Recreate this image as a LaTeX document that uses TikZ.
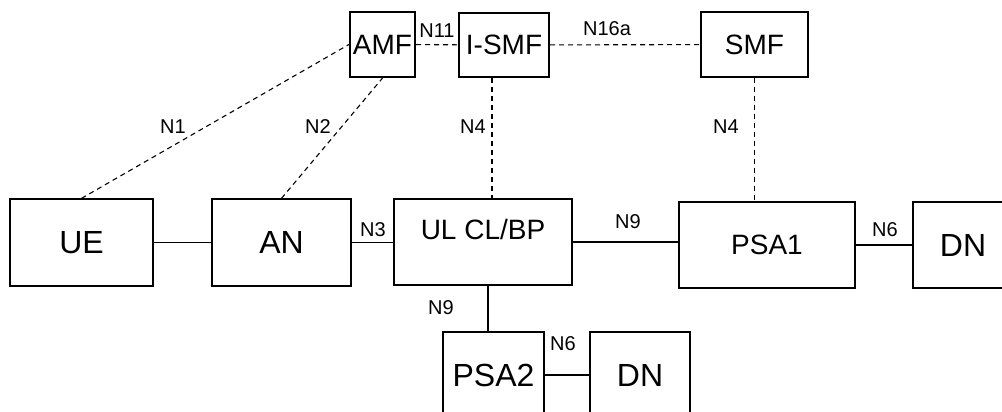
\documentclass[tikz,border=0pt]{standalone}
\usepackage{fontspec}
\setmainfont{Liberation Sans}
\usetikzlibrary{positioning, calc}

\begin{document}
\begin{tikzpicture}[x=1pt, y=-1pt,
    box/.style={draw, line width=1.3pt, inner sep=0pt},
    thickbox/.style={draw, line width=2.2pt, inner sep=0pt},
    link/.style={line width=1.3pt},
    ctrl/.style={line width=1.1pt, dash pattern=on 5pt off 4pt},
    lbl/.style={font=\fontsize{20}{24}\selectfont, inner sep=0pt},
    big/.style={font=\fontsize{32}{38}\selectfont},
    mid/.style={font=\fontsize{28}{34}\selectfont}]
    \useasboundingbox (0,0) rectangle (1002,412);

    % control plane
    \node[thickbox, mid, minimum width=65pt, minimum height=65pt] (amf) at (382.5,44.5) {AMF};
    \node[thickbox, mid, minimum width=90pt, minimum height=64pt] (ismf) at (504,45) {I-SMF};
    \node[box, mid, minimum width=107pt, minimum height=65pt] (smf) at (754.5,44.5) {SMF};

    % user plane
    \node[box, big, minimum width=143pt, minimum height=87pt] (ue) at (81.5,242.5) {UE};
    \node[box, big, minimum width=139pt, minimum height=87pt] (an) at (281.5,242.5) {AN};
    \node[box, minimum width=178pt, minimum height=86pt,
          label={[mid, yshift=13pt]center:UL CL/BP}] (ulcl) at (483,242) {};
    \node[box, mid, minimum width=176pt, minimum height=86pt] (psa1) at (767,245) {PSA1};
    \node[box, big, minimum width=100pt, minimum height=86pt] (dn1) at (963,245) {DN};
    \node[box, big, minimum width=101pt, minimum height=86pt] (psa2) at (493.5,375) {PSA2};
    \node[box, big, minimum width=100pt, minimum height=86pt] (dn2) at (640,375) {DN};

    \coordinate (ulclout) at ($(ulcl.south)+(5,0)$);
    \coordinate (ismfout) at ($(ismf.south)+(-12,0)$);

    \draw[link] (ue) -- (an);
    \draw[link] (an.east) -- (an.east -| ulcl.west);
    \draw[link] (ulcl.east) -- (ulcl.east -| psa1.west);
    \draw[link] (psa1) -- (dn1);
    \draw[link] (ulclout) -- (ulclout |- psa2.north);
    \draw[link] (psa2) -- (dn2);

    \draw[ctrl] (ue.north) -- (amf.west);
    \draw[ctrl] (an.north) -- (amf.south);
    \draw[ctrl] (amf) -- (ismf);
    \draw[ctrl] (ismf) -- (smf);
    \draw[ctrl] (ismfout) -- (ismfout |- ulcl.north);
    \draw[ctrl] (smf.south) -- (smf.south |- psa1.north);

    % interface names
    \node[lbl] (n1) at (173,127) {N1};
    \node[lbl] (n2) at (318,127) {N2};
    \node[lbl] (n4a) at (473,127) {N4};
    \node[lbl] (n4b) at (726,127) {N4};
    \node[lbl] (n11) at (437,31) {N11};
    \node[lbl] (n16a) at (607,29) {N16a};
    \node[lbl] (n3) at (373,230) {N3};
    \node[lbl] (n9a) at (628,222) {N9};
    \node[lbl] (n6a) at (885,230) {N6};
    \node[lbl] (n9b) at (441,308) {N9};
    \node[lbl] (n6b) at (563,344) {N6};
\end{tikzpicture}
\end{document}
